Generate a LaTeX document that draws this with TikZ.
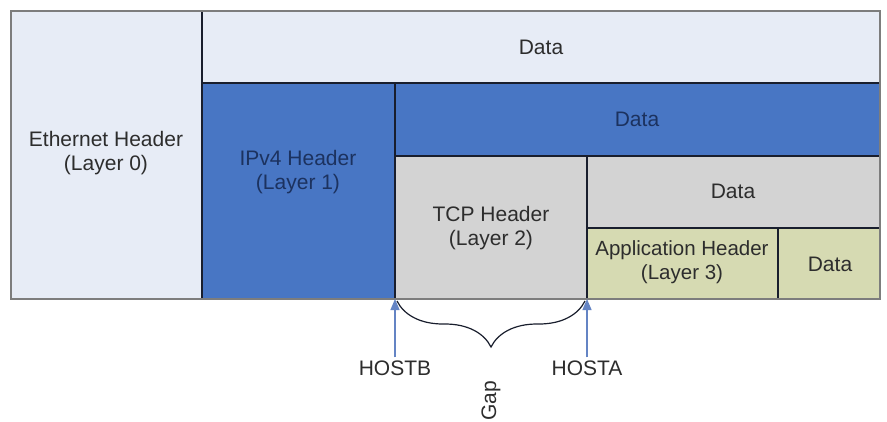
\documentclass[tikz,border=0pt]{standalone}
\usepackage{fontspec}
\setmainfont{Liberation Sans}
\usetikzlibrary{arrows.meta,decorations.pathreplacing}
\definecolor{cLight}{RGB}{231,236,246}
\definecolor{cBlue}{RGB}{72,118,196}
\definecolor{cGrey}{RGB}{211,211,211}
\definecolor{cGreen}{RGB}{214,218,178}
\definecolor{cLine}{RGB}{25,30,45}
\definecolor{cFrame}{RGB}{125,125,125}
\definecolor{cArrow}{RGB}{100,132,196}
\definecolor{cText}{RGB}{45,45,45}
\definecolor{cTextBlue}{RGB}{28,50,95}
\tikzset{
  cell/.style={draw=cLine, line width=1.3pt, anchor=north west, inner sep=0pt, outer sep=0pt},
  lbl/.style={align=center, text=cText, font=\fontsize{21}{24}\selectfont, inner sep=0pt},
  lblblue/.style={lbl, text=cTextBlue},
  small/.style={font=\fontsize{20.5}{24}\selectfont},
  hostarrow/.style={draw=cArrow, line width=1.3pt, -{Triangle[width=9pt,length=11pt]}},
}
\begin{document}
\begin{tikzpicture}[x=1pt,y=1pt]
\useasboundingbox[fill=white] (0,0) rectangle (887,-421);
% cells
\node[cell, fill=cLight, minimum width=191, minimum height=288] (eth) at (11,-11) {};
\node[cell, fill=cLight, minimum width=678, minimum height=72] (d0) at (202,-11) {};
\node[cell, fill=cBlue, minimum width=193, minimum height=216] (ip) at (202,-83) {};
\node[cell, fill=cBlue, minimum width=485, minimum height=73] (d1) at (395,-83) {};
\node[cell, fill=cGrey, minimum width=192, minimum height=143] (tcp) at (395,-156) {};
\node[cell, fill=cGrey, minimum width=293, minimum height=72] (d2) at (587,-156) {};
\node[cell, fill=cGreen, minimum width=191, minimum height=71] (app) at (587,-228) {};
\node[cell, fill=cGreen, minimum width=102, minimum height=71] (d3) at (778,-228) {};
% outer frame
\draw[cFrame, line width=2pt] (eth.north west) rectangle (d3.south east);
% labels
\node[lbl] (tEth) at (106,-153) {Ethernet Header\\(Layer 0)};
\node[lbl] (tD0) at (541,-47) {Data};
\node[lblblue] (tIp) at (298,-172) {IPv4 Header\\(Layer 1)};
\node[lblblue] (tD1) at (637,-119) {Data};
\node[lbl] (tTcp) at (491,-228) {TCP Header\\(Layer 2)};
\node[lbl] (tD2) at (733,-191) {Data};
\node[lbl, small] (tApp) at (682,-262) {Application Header\\(Layer 3)};
\node[lbl] (tD3) at (830,-264) {Data};
% host arrows
\node[lbl] (hb) at (395,-368) {HOSTB};
\node[lbl] (ha) at (587,-368) {HOSTA};
\coordinate (hbTop) at (tcp.south west);
\coordinate (haTop) at (tcp.south east);
\draw[hostarrow] (hb.north) ++(0,3) -- (hbTop);
\draw[hostarrow] (ha.north) ++(0,3) -- (haTop);
% brace
\coordinate (bL) at (397,-301);
\coordinate (bR) at (585,-301);
\draw[cLine, line width=1.2pt, decorate, decoration={brace, mirror, amplitude=46pt, aspect=0.5}] (bL) -- (bR);
\node[lbl, rotate=90] (gap) at (491,-401) {Gap};
\end{tikzpicture}
\end{document}
